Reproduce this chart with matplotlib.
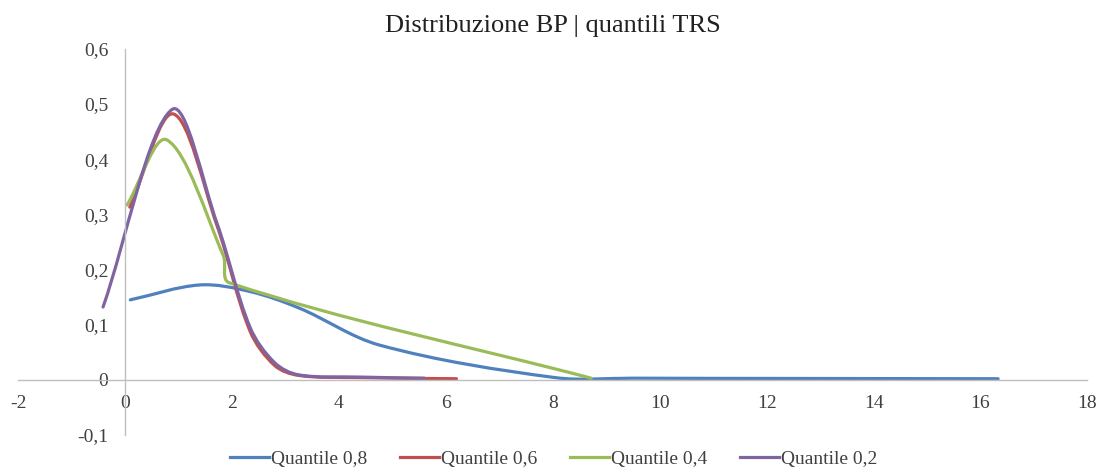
import matplotlib.pyplot as plt
import numpy as np
from matplotlib.path import Path
from matplotlib.patches import PathPatch
from matplotlib.lines import Line2D
from matplotlib.ticker import FuncFormatter

plt.rcParams['font.family'] = ['Liberation Serif', 'DejaVu Serif']
plt.rcParams['axes.unicode_minus'] = False

# BP density points for each TRS quantile
q08_x = [0.1, 1.4, 2.34, 3.26, 4.76, 8.05, 9.5, 12.5, 16.33]
q08_y = [0.145, 0.172, 0.160, 0.130, 0.063, 0.004, 0.003, 0.0025, 0.002]

q06_x = [0.09, 0.9, 1.72, 2.34, 2.8, 3.25, 4.4, 6.2]
q06_y = [0.313, 0.482, 0.280, 0.088, 0.026, 0.008, 0.004, 0.002]

q04_x = [0.04, 0.78, 1.84, 1.95, 8.72]
q04_y = [0.317, 0.435, 0.225, 0.176, 0.003]

q02_x = [-0.41, 0.88, 1.72, 2.34, 2.8, 3.25, 4.4, 5.6]
q02_y = [0.132, 0.490, 0.284, 0.095, 0.031, 0.009, 0.005, 0.003]

labels = ['Quantile 0,8', 'Quantile 0,6', 'Quantile 0,4', 'Quantile 0,2']
colors = ['#4F81BD', '#C0504D', '#9BBB59', '#8064A2']


def smooth_path(ax, xs, ys):
    # smoothed line: cubic beziers with chord-weighted tangents, built in
    # display space so short segments don't overshoot
    pts = ax.transData.transform(np.column_stack([xs, ys]))
    n = len(pts)
    seg = np.linalg.norm(np.diff(pts, axis=0), axis=1)
    verts = [pts[0]]
    codes = [Path.MOVETO]
    for i in range(n - 1):
        p1, p2 = pts[i], pts[i + 1]
        if i == 0:
            c1 = p1 + (p2 - p1) / 3
        else:
            d = p2 - pts[i - 1]
            c1 = p1 + d * seg[i] / (seg[i - 1] + seg[i]) / 3
        if i == n - 2:
            c2 = p2 - (p2 - p1) / 3
        else:
            d = pts[i + 2] - p1
            c2 = p2 - d * seg[i] / (seg[i] + seg[i + 1]) / 3
        verts += [c1, c2, p2]
        codes += [Path.CURVE4] * 3
    verts = ax.transData.inverted().transform(np.array(verts))
    return Path(verts, codes)


fig = plt.figure(figsize=(11.07, 4.71), dpi=100)
ax = fig.add_axes([0.0163, 0.0764, 0.966, 0.82])
ax.set_xlim(-2, 18)
ax.set_ylim(-0.1, 0.6)

series = [(q08_x, q08_y), (q06_x, q06_y), (q04_x, q04_y), (q02_x, q02_y)]
handles = []
for (xs, ys), c, lab in zip(series, colors, labels):
    ax.add_patch(PathPatch(smooth_path(ax, xs, ys), fill=False, edgecolor=c,
                           lw=2.3, capstyle='round', joinstyle='round'))
    handles.append(Line2D([], [], color=c, lw=2.3, label=lab))

ax.set_xticks(np.arange(-2, 19, 2))
ax.set_yticks(np.round(np.arange(-0.1, 0.61, 0.1), 1))
ax.yaxis.set_major_formatter(FuncFormatter(lambda v, p: f'{v:g}'.replace('.', ',')))

for s in ['top', 'right']:
    ax.spines[s].set_visible(False)
ax.spines['left'].set_position(('data', 0))
ax.spines['bottom'].set_position(('data', 0))
for s in ['left', 'bottom']:
    ax.spines[s].set_color('#BFBFBF')
    ax.spines[s].set_linewidth(1.0)
ax.tick_params(axis='both', length=0, labelsize=14, colors='#404040')
ax.tick_params(axis='y', pad=12)
ax.tick_params(axis='x', pad=11)

ax.set_title('Distribuzione BP | quantili TRS', fontsize=19, color='#202020', pad=12)

fig.legend(handles=handles, loc='lower center', bbox_to_anchor=(0.5, -0.03), ncol=4,
           frameon=False, fontsize=14, handlelength=2.0, handletextpad=0.1,
           columnspacing=1.7, labelcolor='#404040')

fig.savefig('out.png', dpi=100)
